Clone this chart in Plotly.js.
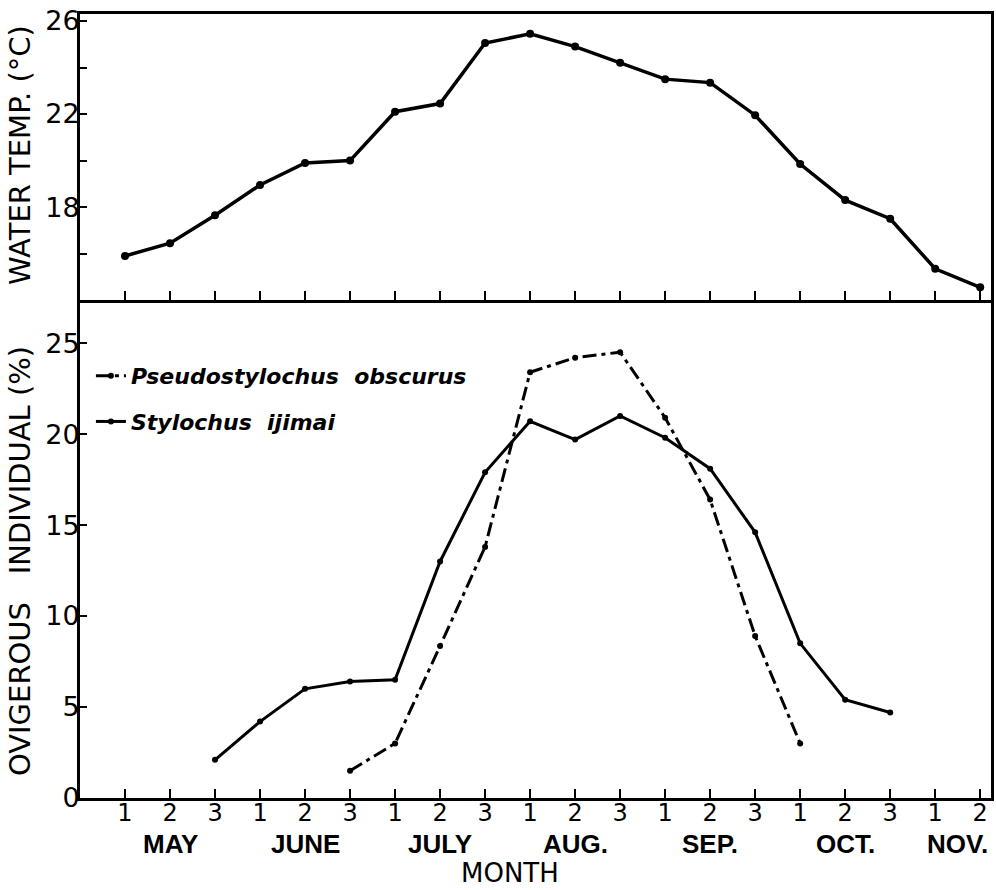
<!DOCTYPE html>
<html>
<head>
<meta charset="utf-8">
<script src="https://cdn.plot.ly/plotly-3.0.1.min.js"></script>
<style>html,body{margin:0;padding:0;background:#fff;}#chart{width:996px;height:890px;}</style>
</head>
<body>
<div id="chart"></div>
<script>
// Ten-day periods (1st, 2nd, 3rd third of each month)
const periods = ['1','2','3','1','2','3','1','2','3','1','2','3','1','2','3','1','2','3','1','2'];
const months = ['MAY','JUNE','JULY','AUG.','SEP.','OCT.','NOV.'];
const periodsPerMonth = [3,3,3,3,3,3,2];

// Water temperature (°C)
const waterTemp = [15.9,16.45,17.65,18.95,19.9,20.0,22.1,22.45,25.05,25.45,24.9,24.2,23.5,23.35,21.95,19.85,18.3,17.5,15.35,14.55];
// Ovigerous individuals (%)
const pseudostylochus = [null,null,null,null,null,1.5,3.0,8.35,13.8,23.4,24.2,24.5,20.9,16.4,8.9,3.0,null,null,null,null];
const stylochus = [null,null,2.1,4.2,6.0,6.4,6.5,13.0,17.9,20.7,19.7,21.0,19.8,18.1,14.6,8.5,5.4,4.7,null,null];

const tempTickVals = [16,18,20,22,24,26];
const tempTickText = ['','18','','22','','26'];
const pctTickVals = [0,5,10,15,20,25];
const pctTickText = ['0','5','10','15','20','25'];

const xs = periods.map((p,i)=>i+1);
const FONT = 'DejaVu Sans, sans-serif';

const traces = [
  {x: xs, y: waterTemp, xaxis:'x2', yaxis:'y2', mode:'lines+markers', showlegend:false,
   line:{color:'#000', width:3.5}, marker:{color:'#000', size:8, symbol:'circle'}},
  {x: xs, y: pseudostylochus, xaxis:'x', yaxis:'y', mode:'lines+markers', name:'<i>Pseudostylochus  obscurus</i>',
   legendgroup:'a', line:{color:'#000', width:3, dash:'14px,5px,4px,5px'}, marker:{color:'#000', size:6}},
  {x: xs, y: stylochus, xaxis:'x', yaxis:'y', mode:'lines+markers', name:'<i>Stylochus  ijimai</i>',
   legendgroup:'b', line:{color:'#000', width:3}, marker:{color:'#000', size:6}}
];

// month label annotations, centered under their periods
const annotations = [];
let start = 1;
months.forEach((m,i)=>{
  const n = periodsPerMonth[i];
  annotations.push({text:m, x: start + (n-1)/2, xref:'x', y:-0.059, yref:'paper', showarrow:false,
    xanchor:'center', yanchor:'middle', font:{family:'Liberation Sans Narrow, Liberation Sans, sans-serif', size:26, color:'#000', weight:700}});
  start += n;
});
annotations.push({text:'MONTH', x:0.472, xref:'paper', y:-0.096, yref:'paper', showarrow:false,
  xanchor:'center', yanchor:'middle', font:{family:FONT, size:26, color:'#000'}});
annotations.push({text:'WATER TEMP. (°C)', x:-0.066, xref:'paper', y:0.82, yref:'paper', showarrow:false,
  textangle:-90, xanchor:'center', yanchor:'middle', font:{family:FONT, size:29, color:'#000'}});
annotations.push({text:'OVIGEROUS   INDIVIDUAL (%)', x:-0.066, xref:'paper', y:0.302, yref:'paper', showarrow:false,
  textangle:-90, xanchor:'center', yanchor:'middle', font:{family:FONT, size:29, color:'#000'}});

const xCommon = {range:[0,20.24], tickvals: xs, showgrid:false, zeroline:false, showline:true,
  linecolor:'#000', linewidth:3, ticks:'inside', ticklen:9, tickwidth:2, tickcolor:'#000'};

const layout = {
  width:996, height:890, margin:{l:80, r:5, t:14, b:92},
  paper_bgcolor:'#fff', plot_bgcolor:'#fff',
  font:{family:FONT, color:'#000'},
  xaxis: Object.assign({}, xCommon, {anchor:'y', domain:[0,1], ticktext: periods,
     tickfont:{family:FONT, size:24, color:'#000'}, ticklabelstandoff:-9}),
  xaxis2: Object.assign({}, xCommon, {anchor:'y2', domain:[0,1], matches:'x', showticklabels:false, mirror:true}),
  yaxis: {anchor:'x', domain:[0,0.635], range:[0,27.36], tickvals:pctTickVals, ticktext:pctTickText,
     showgrid:false, zeroline:false, showline:true, linecolor:'#000', linewidth:3, mirror:true,
     ticks:'inside', ticklen:7, tickwidth:2, tickcolor:'#000', tickfont:{family:FONT, size:27, color:'#000'}, ticklabelstandoff:-8},
  yaxis2: {anchor:'x2', domain:[0.635,1], range:[14,26.3], tickvals:tempTickVals, ticktext:tempTickText,
     showgrid:false, zeroline:false, showline:true, linecolor:'#000', linewidth:3, mirror:true,
     ticks:'inside', ticklen:7, tickwidth:2, tickcolor:'#000', tickfont:{family:FONT, size:27, color:'#000'}, ticklabelstandoff:-8},
  showlegend:true,
  legend:{x:0.012, y:0.565, xanchor:'left', yanchor:'top', bgcolor:'rgba(0,0,0,0)', borderwidth:0,
    font:{family:FONT, size:22, color:'#000', weight:600}, tracegroupgap:14, itemwidth:30},
  annotations: annotations
};

Plotly.newPlot('chart', traces, layout, {staticPlot:true, displayModeBar:false});
</script>
</body>
</html>
